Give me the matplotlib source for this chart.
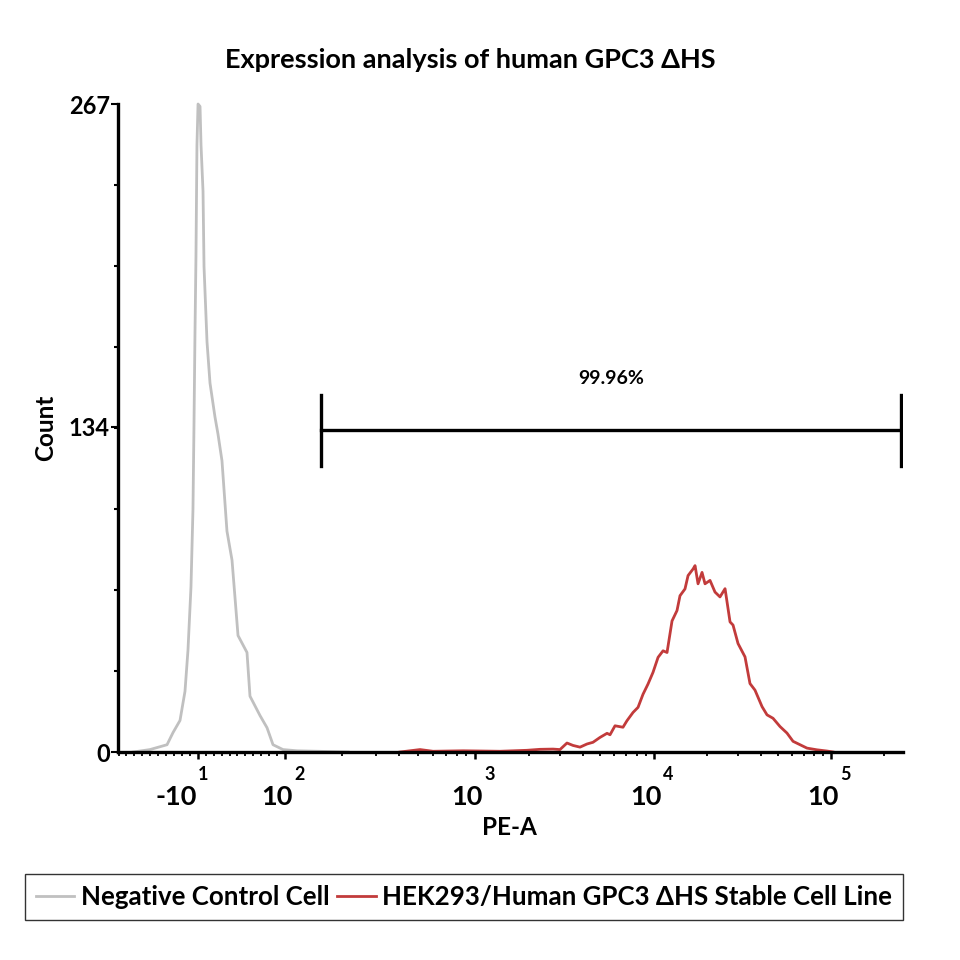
import numpy as np
import matplotlib
matplotlib.use('Agg')
import matplotlib.pyplot as plt
import matplotlib.transforms as mtransforms

FONT = ['Lato', 'DejaVu Sans']
plt.rcParams['font.family'] = FONT
plt.rcParams['font.weight'] = 'bold'

# ── Histogram data (x = display channel of the biexponential PE-A axis, y = count) ──
neg_ch = [20, 41.7, 63.9, 71.7, 80.8, 87.3, 91.2, 95.1, 97.7, 99.0, 100.3, 101.6,
          102.9, 104.3, 106.9, 108.2, 110.8, 112.1, 116.0, 119.9, 126.4, 130.3,
          135.5, 142.0, 148.6, 156.4, 168.1, 172.0, 185.1, 194.2, 202.0, 215.0,
          233.3, 260, 300]
neg_cnt = [0, 1, 3, 8, 13, 25, 42, 68, 100, 134, 172, 204,
           250, 267, 266, 250, 231, 200, 169, 152, 138, 131,
           120, 91, 79, 48, 41, 23, 15, 10, 3, 1,
           0.5, 0.3, 0]

pos_ch = [367.5, 393.6, 410.5, 449.6, 497.8, 533.0, 549.9, 566.9, 576.0, 585.1,
          593.0, 602.1, 611.2, 619.0, 628.1, 637.3, 641.2, 647.7, 658.1, 663.3,
          671.2, 677.7, 684.2, 690.7, 697.2, 703.8, 710.3, 715.5, 722.0, 728.5,
          732.4, 738.9, 742.9, 749.4, 752.0, 755.9, 761.1, 765.0, 771.5, 778.0,
          784.5, 791.1, 797.6, 801.5, 808.0, 817.1, 823.6, 830.1, 839.3, 845.8,
          853.6, 862.7, 871.8, 879.7, 888.8, 897.9, 910.9, 923.9, 931.8]
pos_cnt = [0, 1.0, 0.3, 0.5, 0.3, 0.7, 1.1, 1.2, 1.0, 3.7,
           2.7, 2.0, 3.3, 4.0, 6.0, 7.7, 7.1, 10.8, 10.2, 12.9,
           16.3, 18.4, 23.8, 28.0, 32.8, 39.0, 41.7, 41.0, 54.0, 58.3,
           64.4, 67.2, 72.7, 75.4, 76.8, 69.3, 74.0, 69.3, 70.7, 65.9,
           63.9, 67.3, 53.6, 52.3, 44.7, 39.2, 28.2, 25.5, 18.7, 15.3,
           13.9, 10.5, 7.8, 4.4, 3.0, 1.6, 0.9, 0.4, 0]

# gate
gate_lo, gate_hi, gate_y = 264.5, 1020.4, 132.5
gate_label = '99.96%'

# axis: decade anchors (channel of 10^2..10^5), linear part below 10^2
decade_exp = [2, 3, 4, 5]
decade_ch = [217.6, 465.2, 698.5, 929.2]
neg_tick_ch = 104.0  # -10^1
y_ticks = [0, 134, 267]


def to_channel(v):
    v = np.asarray(v, dtype=float)
    lin = neg_tick_ch + (v + 10) * (decade_ch[0] - neg_tick_ch) / 110.0
    lg = np.log10(np.maximum(v, 1e-9))
    logpart = np.interp(lg, decade_exp, decade_ch)
    over = decade_ch[-1] + (lg - 5) * (decade_ch[-1] - decade_ch[-2])
    logpart = np.where(lg > 5, over, logpart)
    return np.where(v <= 100, lin, logpart)


fig = plt.figure(figsize=(9.6, 9.6), dpi=100)
ax = fig.add_axes([118 / 960, 1 - 752 / 960, 785 / 960, 648 / 960])

ax.plot(neg_ch, neg_cnt, color='#c0c0c0', lw=2.0, clip_on=False,
        label='Negative Control Cell')
ax.plot(pos_ch, pos_cnt, color='#c23b3b', lw=2.0, clip_on=False,
        label='HEK293/Human GPC3 \u0394HS Stable Cell Line')

# gate bar
ax.plot([gate_lo, gate_hi], [gate_y, gate_y], color='black', lw=2.4)
for gx in (gate_lo, gate_hi):
    ax.plot([gx, gx], [gate_y - 14.5, gate_y + 14.5], color='black', lw=2.4)
ax.text((gate_lo + gate_hi) / 2, 154, gate_label, ha='center', va='center',
        fontsize=14, fontweight='bold')

ax.set_xlim(0, 1023)
ax.set_ylim(0, 267)

for s in ('top', 'right'):
    ax.spines[s].set_visible(False)
for s in ('left', 'bottom'):
    ax.spines[s].set_linewidth(2.4)

# y ticks
ax.set_yticks(y_ticks)
ax.set_yticklabels([str(t) for t in y_ticks], fontsize=17, fontweight='bold')
ax.set_yticks(np.linspace(0, 267, 9), minor=True)
ax.tick_params(axis='y', which='major', direction='out', length=5, width=1.5, pad=1)
ax.tick_params(axis='y', which='minor', direction='out', length=3, width=1.5)

# x ticks
major_x = [neg_tick_ch] + decade_ch
ax.set_xticks(major_x)
ax.set_xticklabels([''] * len(major_x))
minor_vals = list(range(-110, 100, 10))
for e in (2, 3, 4):
    minor_vals += [m * 10 ** e for m in range(2, 10)]
minor_vals += [2e5]
ax.set_xticks(to_channel(minor_vals), minor=True)
ax.tick_params(axis='x', which='major', direction='out', length=5, width=1.8)
ax.tick_params(axis='x', which='minor', direction='out', length=3, width=1.3)

# x tick labels drawn as base + raised exponent
px = 1023 / 785
trans = mtransforms.blended_transform_factory(ax.transData, ax.transAxes)
labels = [('-10', '1', neg_tick_ch - 1 * px)]
for e, c in zip(decade_exp, decade_ch):
    labels.append(('10', str(e), c + 8 * px))
for base, sup, xc in labels:
    ax.text(xc, -0.069, base, transform=trans, ha='right', va='center',
            fontsize=19.5, fontweight='bold')
    ax.text(xc + 1 * px, -0.034, sup, transform=trans, ha='left', va='center',
            fontsize=13, fontweight='bold')

ax.text(510, -0.117, 'PE-A', transform=trans, ha='center', va='center',
        fontsize=17.5, fontweight='bold')
ax.set_ylabel('Count', fontsize=17.5, fontweight='bold', labelpad=8)

fig.text(470 / 960, 1 - 60 / 960, 'Expression analysis of human GPC3 \u0394HS',
         ha='center', va='center', fontsize=19.5, fontweight='bold')

leg = fig.legend(loc='center', bbox_to_anchor=(464 / 960, 1 - 897 / 960), ncol=2,
                 frameon=True, fancybox=False, handlelength=1.5,
                 handletextpad=0.25, columnspacing=0.3, borderpad=0.42,
                 borderaxespad=0,
                 prop={'weight': 'bold', 'size': 18.6, 'family': FONT})
leg.get_frame().set_edgecolor('black')
leg.get_frame().set_linewidth(1.0)

fig.savefig('out.png', dpi=100)
